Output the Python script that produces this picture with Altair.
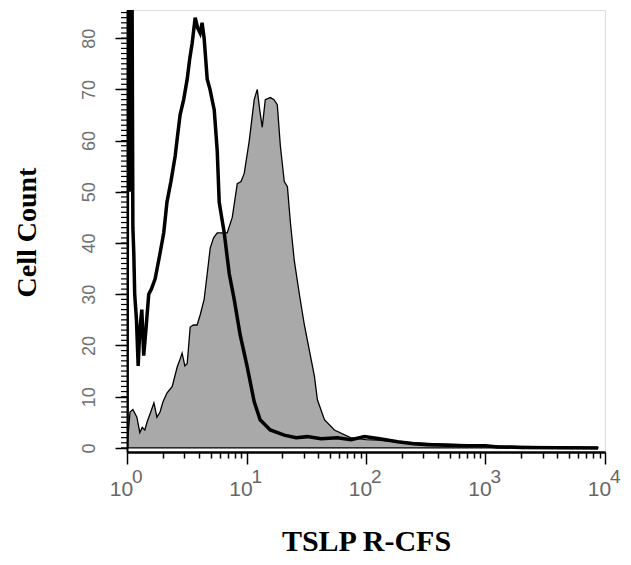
import altair as alt
import pandas as pd

# Isotype control histogram (thick black line)
ctrl_x = [1.0, 1.015, 1.04, 1.055, 1.07, 1.10, 1.12, 1.14, 1.16, 1.20, 1.24, 1.28, 1.33, 1.38,
          1.45, 1.52, 1.60, 1.72, 1.89,
          2.03, 2.16, 2.33, 2.53, 2.65, 2.78, 2.98, 3.19, 3.35, 3.51, 3.72, 3.90, 4.09, 4.25,
          4.42, 4.69, 4.95, 5.37, 5.69, 5.91, 6.20, 6.51, 7.17, 7.89, 8.86, 10.1, 11.6, 13.0,
          15.8, 20.7, 26, 32.3, 42, 57.6, 75, 97, 130, 184, 250, 328, 480, 710, 1000, 1267,
          2000, 4036, 8736]
ctrl_y = [0, 95, 95, 50, 95, 95, 43, 38, 30, 25, 16, 23, 27, 18,
          24, 30, 31, 33, 38,
          42, 48, 52, 57, 61, 65, 68, 72, 76, 79, 84, 82, 81, 83,
          80, 72, 70, 66, 58, 48, 45, 42, 34, 29, 22, 16, 9, 5.5,
          3.5, 2.5, 2, 2.2, 1.8, 2, 1.6, 2.2, 1.8, 1.2, 0.8, 0.6, 0.5, 0.4, 0.4, 0.2,
          0.1, 0.05, 0]

# TSLP R stained histogram (gray filled)
stain_x = [1.0, 1.06, 1.12, 1.21, 1.28, 1.34, 1.41, 1.47, 1.58, 1.68, 1.78, 1.89, 2.0, 2.16,
           2.39, 2.63, 2.75, 2.89, 3.05, 3.19, 3.38, 3.6, 3.86, 4.1, 4.42, 4.69, 4.97, 5.3,
           5.69, 6.3, 6.9, 7.6, 8.37, 9.0, 9.57, 10.55, 11.6, 12.3, 12.9, 13.55, 14.36, 15.8,
           17, 18.1, 19.2, 20.7, 22.0, 23.3, 25.1, 27.7, 30.5, 33.6, 37.0, 39.2, 44.9, 54.4,
           74.1, 100, 125, 180, 270, 400, 710, 1200, 1862, 4000, 8736]
stain_y = [0, 7, 7.5, 6, 3, 4, 3.5, 5, 7, 8.8, 6, 7, 9, 10.7,
           12, 15.8, 17, 18.5, 16, 16.5, 23.6, 24, 24, 26, 29, 34, 39, 41,
           42, 42, 42, 45, 51.6, 52, 53.6, 60, 68, 70, 66, 62.6, 68, 68.4,
           68, 67, 59, 52, 51, 44, 36.6, 30, 24, 19, 14, 9.4, 5.5, 3.5,
           2, 1.6, 1.5, 1.2, 1, 0.8, 0.6, 0.4, 0.3, 0.2, 0.1]

x_major = [1, 10, 100, 1000, 10000]
x_exponents = ["0", "1", "2", "3", "4"]
x_minor = [m * d for d in [1, 10, 100, 1000] for m in range(2, 10)]
y_major = [0, 10, 20, 30, 40, 50, 60, 70, 80]
y_minor = [float(v) for v in range(0, 86)]

ctrl = pd.DataFrame({"x": ctrl_x, "y": ctrl_y})
stain = pd.DataFrame({"x": stain_x, "y": stain_y})
expo = pd.DataFrame({"x": x_major, "e": x_exponents})
yminor_df = pd.DataFrame({"v": y_minor})

xscale = alt.Scale(type="log", domain=[1, 10000], nice=False)
yscale = alt.Scale(domain=[-0.8, 85.5], nice=False, zero=False)

minor_x_axis = alt.Axis(orient="bottom", values=x_minor, labels=False, title=None,
                        tickSize=6, tickColor="black", tickWidth=1.5,
                        domainColor="black", domainWidth=2, grid=False)
major_x_axis = alt.Axis(orient="bottom", values=x_major, labelExpr="'10'",
                        tickSize=12, tickColor="black", tickWidth=1.5,
                        domainColor="black", domainWidth=2, grid=False,
                        labelFont="Liberation Sans", labelFontSize=21, labelColor="#666666",
                        labelPadding=14, labelOffset=-6, labelFlush=False,
                        title="TSLP R-CFS", titleFont="Liberation Serif", titleFontSize=30,
                        titleFontWeight="bold", titleColor="black",
                        titleX=239, titleY=98, titleBaseline="alphabetic", titleAlign="center")
major_y_axis = alt.Axis(orient="left", values=y_major, labelAngle=-90,
                        labelAlign="center", labelBaseline="alphabetic",
                        tickSize=12, tickColor="black", tickWidth=1.5,
                        domainColor="black", domainWidth=2, grid=False,
                        labelFont="Liberation Sans", labelFontSize=18, labelColor="#707070",
                        labelPadding=21, labelFlush=False,
                        title="Cell Count", titleFont="Liberation Serif", titleFontSize=28,
                        titleFontWeight="bold", titleColor="black", titleAngle=270,
                        titleX=-92, titleY=222, titleBaseline="alphabetic", titleAlign="center")

area = alt.Chart(stain).mark_area(
    fill="#a9a9a9", fillOpacity=1, stroke="black", strokeWidth=1.3, clip=True
).encode(
    x=alt.X("x:Q", scale=xscale, axis=major_x_axis),
    y=alt.Y("y:Q", scale=yscale, axis=major_y_axis),
)

line = alt.Chart(ctrl).mark_line(color="black", strokeWidth=3.5, clip=True).encode(
    x=alt.X("x:Q", scale=xscale, axis=minor_x_axis),
    y=alt.Y("y:Q", scale=yscale, axis=None),
)

yminor = alt.Chart(yminor_df).mark_rule(color="black", strokeWidth=1.2).encode(
    y=alt.Y("v:Q", scale=yscale, axis=None),
    x=alt.value(-6),
    x2=alt.value(0),
)

exps = alt.Chart(expo).mark_text(
    align="left", baseline="alphabetic", dx=5,
    font="Liberation Sans", fontSize=19, color="#666666"
).encode(
    x=alt.X("x:Q", scale=xscale, axis=None),
    y=alt.value(473),
    text="e:N",
)

chart = alt.layer(area, line, yminor, exps).resolve_axis(
    x="independent", y="independent"
).properties(
    width=478, height=442,
    autosize=alt.AutoSizeParams(type="none"),
    padding={"left": 119, "top": 2, "right": 18, "bottom": 105},
).configure_view(
    stroke="#888888", strokeWidth=2
).configure(background="white")

chart.save("out.html", embed_options={"renderer": "svg", "actions": False})
